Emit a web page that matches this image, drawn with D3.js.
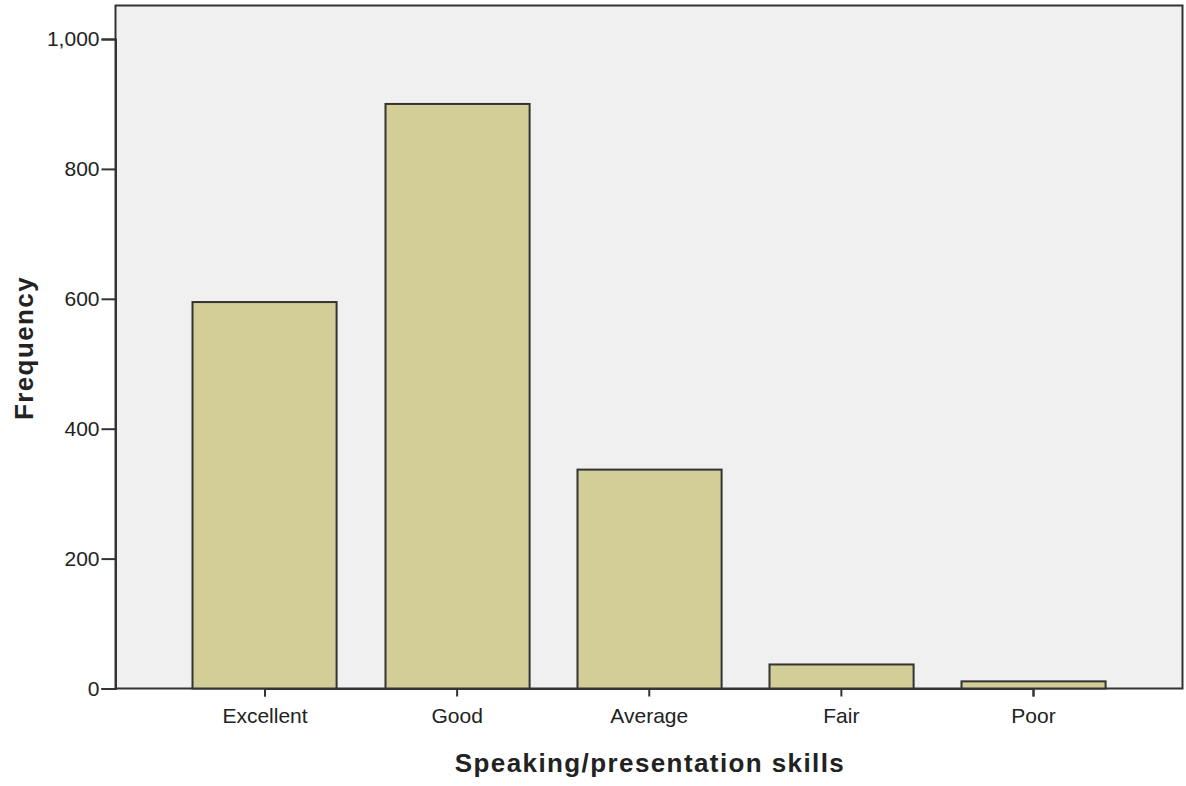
<!DOCTYPE html>
<html><head><meta charset="utf-8">
<script src="https://cdn.jsdelivr.net/npm/d3@7"></script>
<style>body{margin:0;background:#fff;} text{font-family:Arial,"Liberation Sans",sans-serif;}</style>
</head><body>
<svg id="c" width="1186" height="786"></svg>
<script>
const categories = ["Excellent","Good","Average","Fair","Poor"];
const frequencies = [595, 900, 337, 37, 11];
const yTicks = [0,200,400,600,800,1000];
const xTitle = "Speaking/presentation skills";
const yTitle = "Frequency";

const svg = d3.select("#c");
const L=115.5, R=1182.5, T=5.5, B=688.5;
const y = d3.scaleLinear().domain([0,1000]).range([B,39]);
const x = d3.scalePoint().domain(categories).range([264.5,1033]);
const bw = x.step()*0.75;

svg.append("rect").attr("x",L).attr("y",T).attr("width",R-L).attr("height",B-T)
  .attr("fill","#f0f0f0").attr("stroke","#333").attr("stroke-width",2);

svg.selectAll(".bar").data(categories).enter().append("rect")
  .attr("x",d=>Math.round(x(d)-bw/2)+0.5)
  .attr("y",(d,i)=>y(frequencies[i]))
  .attr("width",bw).attr("height",(d,i)=>B-y(frequencies[i]))
  .attr("fill","#d3ce97").attr("stroke","#333").attr("stroke-width",2);

const ya = svg.append("g").attr("transform",`translate(${L},0)`)
  .call(d3.axisLeft(y).tickValues(yTicks).tickSize(14).tickPadding(2).tickFormat(d3.format(",")));
const xa = svg.append("g").attr("transform",`translate(0,${B})`)
  .call(d3.axisBottom(x).tickSize(8).tickPadding(12));
[ya,xa].forEach(g=>{
  g.select(".domain").attr("stroke","#333").attr("stroke-width",2);
  g.selectAll(".tick line").attr("stroke","#333").attr("stroke-width",2);
  g.selectAll(".tick text").attr("fill","#222").style("font-size","21px").style("font-family","Arial, 'Liberation Sans', sans-serif");
});

svg.append("text").attr("x",650).attr("y",772).attr("text-anchor","middle")
  .style("font-size","26px").style("font-weight","bold").style("letter-spacing","1.4px").attr("fill","#222").text(xTitle);
svg.append("text").attr("transform","translate(33,348) rotate(-90)").attr("text-anchor","middle")
  .style("font-size","26px").style("font-weight","bold").style("letter-spacing","1.4px").attr("fill","#222").text(yTitle);
</script>
</body></html>
